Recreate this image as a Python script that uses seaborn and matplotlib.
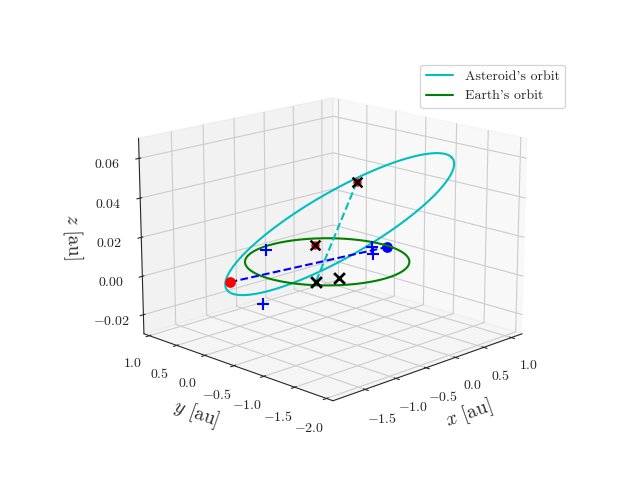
import numpy as np
import matplotlib
matplotlib.use("Agg")
import matplotlib.pyplot as plt
import seaborn as sns

sns.set_style("white")
plt.rcParams["mathtext.fontset"] = "cm"
plt.rcParams["font.family"] = "serif"
plt.rcParams["font.serif"] = ["cmr10"]
plt.rcParams["axes.formatter.use_mathtext"] = True

# asteroid orbit: centre and two semi-axis vectors (estimated)
ast_c = [-0.5, -0.7, 0.03]
ast_u = [1.12, -0.74, 0.03]
ast_v = [-0.67, -0.98, 0.0]

# special points
red_dot = [-1.58, 0.02, 0.003]
blue_dot = [0.95, -0.1, 0.0]
node_x = [-0.72, -0.4]
node_y = [-0.53, -0.6]
node_z = [0.0, 0.0]
redx_x = [0.0, 0.39]
redx_y = [-0.5, 0.61]
redx_z = [0.045, 0.0]
plus_x = [-0.21, -1.21, 0.82, 0.6]
plus_y = [0.86, -0.14, 0.03, -0.2]
plus_z = [0.0, -0.01, 0.0, 0.0]

theta = np.linspace(0, 2 * np.pi, 400)
ast = [c + u * np.cos(theta) + v * np.sin(theta) for c, u, v in zip(ast_c, ast_u, ast_v)]

fig = plt.figure(figsize=(6.4, 4.8), dpi=100)
ax = fig.add_subplot(projection="3d")
ax.plot(*ast, color="c", label="Asteroid's orbit")
ax.plot(np.cos(theta), np.sin(theta), 0 * theta, color="g", label="Earth's orbit")

ax.plot(*zip(red_dot, blue_dot), "b--")
ax.plot([redx_x[0], node_x[0]], [redx_y[0], node_y[0]], [redx_z[0], node_z[0]], "c--")
ax.scatter(*red_dot, color="r", s=45, depthshade=False)
ax.scatter(*blue_dot, color="b", s=45, depthshade=False)
ax.scatter(node_x, node_y, node_z, marker="x", color="k", s=60, linewidths=2, depthshade=False)
ax.scatter(redx_x, redx_y, redx_z, color="r", s=25, depthshade=False)
ax.scatter(redx_x, redx_y, redx_z, marker="x", color="k", s=50, linewidths=1.8, depthshade=False)
ax.scatter(plus_x, plus_y, plus_z, marker="+", color="b", s=70, linewidths=1.5, depthshade=False)

ax.set_xlim(-2.0, 1.2)
ax.set_ylim(-2.1, 1.1)
ax.set_zlim(-0.03, 0.07)
ax.set_xticks([-1.5, -1.0, -0.5, 0.0, 0.5, 1.0])
ax.set_yticks([-2.0, -1.5, -1.0, -0.5, 0.0, 0.5, 1.0])
ax.set_zticks([-0.02, 0.0, 0.02, 0.04, 0.06])
ax.set_xlabel(r"$x$ [au]", fontsize=14)
ax.set_ylabel(r"$y$ [au]", fontsize=14)
ax.set_zlabel(r"$z$ [au]", fontsize=14)
ax.set_box_aspect(None, zoom=1.14)
ax.view_init(elev=16, azim=-135)
ax.legend(loc="upper right", bbox_to_anchor=(1.16, 1.0))
fig.savefig("out.png")
